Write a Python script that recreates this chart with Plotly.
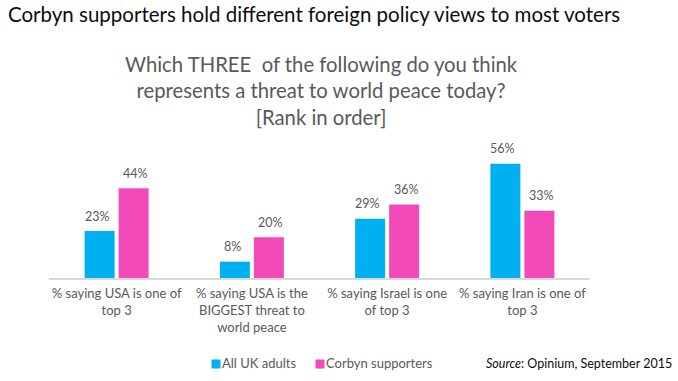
import plotly.graph_objects as go

categories = [
    "% saying USA is one of<br>top 3",
    "% saying USA is the<br>BIGGEST threat to<br>world peace",
    "% saying Israel is one<br>of top 3",
    "% saying Iran is one of<br>top 3",
]
all_uk = [23, 8, 29, 56]
corbyn = [44, 20, 36, 33]
series_names = ["All UK adults", "Corbyn supporters"]

BLUE = "#00B0F0"
PINK = "#F24BB9"
GREY = "#595959"
FONT = "Lato, Calibri, sans-serif"

W, H = 678, 381
L, R, T, B = 49, 88, 156, 103
pw, ph = W - L - R, H - T - B
YMAX = ph / 2.04


def px(x):
    return (x - L) / pw


def py(y):
    return (H - B - y) / ph


fig = go.Figure()
series = [(series_names[0], all_uk, BLUE, -19.5), (series_names[1], corbyn, PINK, 19.0)]
annotations = []
for name, vals, col, shift in series:
    fig.add_trace(go.Bar(x=categories, y=vals, name=name, marker_color=col,
                         marker_line_width=0, showlegend=False))
    for c, v in zip(categories, vals):
        annotations.append(dict(
            x=c, y=v, xref="x", yref="y", text=f"{v}%", showarrow=False,
            xshift=shift, yshift=15, yanchor="middle", xanchor="center",
            font=dict(size=12.5, color=GREY, family=FONT)))

# manual legend
legend_pos = [(216, 222), (319.5, 326)]
for (name, _, col, _), (sq_x, tx) in zip(series, legend_pos):
    annotations.append(dict(x=px(sq_x), y=py(363.5), xref="paper", yref="paper", text=" ",
                            showarrow=False, bgcolor=col, width=8, height=8, borderpad=0,
                            xanchor="center", yanchor="middle", font=dict(size=4)))
    annotations.append(dict(x=px(tx - 2), y=py(363), xref="paper", yref="paper", text=name,
                            showarrow=False, xanchor="left", yanchor="middle",
                            font=dict(size=13, color=GREY, family=FONT)))

annotations += [
    dict(text="Corbyn supporters hold different foreign policy views to most voters",
         xref="paper", yref="paper", x=px(6), y=py(14), xanchor="left", yanchor="middle",
         showarrow=False, font=dict(size=20.5, color="#0D0D0D", family=FONT)),
    dict(text="Which THREE  of the following do you think<br>represents a threat to world peace today?<br>[Rank in order]",
         xref="paper", yref="paper", x=px(321), y=py(90), xanchor="center", yanchor="middle",
         showarrow=False, font=dict(size=20.3, color=GREY, family=FONT)),
    dict(text="<i>Source</i>: Opinium, September 2015",
         xref="paper", yref="paper", x=px(484), y=py(363), xanchor="left", yanchor="middle",
         showarrow=False, font=dict(size=12.5, color="#0D0D0D", family=FONT)),
]

fig.update_layout(
    width=W, height=H,
    margin=dict(l=L, r=R, t=T, b=B),
    paper_bgcolor="white", plot_bgcolor="white",
    barmode="group", bargap=0.497, bargroupgap=0.118,
    font=dict(family=FONT, color=GREY, size=12),
    xaxis=dict(showline=True, linecolor="#D9D9D9", linewidth=1.5, ticks="",
               ticklabelstandoff=3,
               tickfont=dict(size=13, color=GREY, family=FONT), showgrid=False),
    yaxis=dict(range=[0, YMAX], visible=False, showgrid=False),
    showlegend=False,
    annotations=annotations,
)

fig.write_html("out.html", config={"displayModeBar": False},
               post_script="document.body.style.margin='0';")
